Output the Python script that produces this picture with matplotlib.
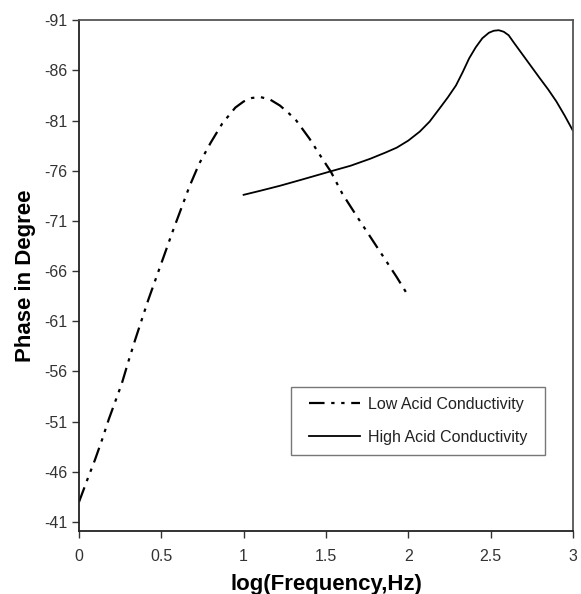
import numpy as np
import matplotlib
matplotlib.use("Agg")
import matplotlib.pyplot as plt
from matplotlib.path import Path

plt.rcParams['font.family'] = ['Liberation Sans', 'DejaVu Sans']

# Low acid conductivity (log f, phase)
low_x = [0.0, 0.05, 0.097, 0.14, 0.18, 0.22, 0.26, 0.30, 0.34, 0.38, 0.42, 0.47, 0.52,
         0.57, 0.62, 0.67, 0.73, 0.80, 0.87, 0.92, 0.95, 1.00, 1.05, 1.10, 1.16, 1.22,
         1.27, 1.32, 1.36, 1.40, 1.47, 1.53, 1.60, 1.69, 1.77, 1.85, 1.93, 1.99]
low_y = [-43.0, -45.2, -47.2, -49.2, -51.2, -53.0, -54.8, -57.0, -59.1, -61.1, -63.1, -65.4, -67.7,
         -70.0, -72.2, -74.4, -76.7, -78.8, -80.7, -81.7, -82.3, -82.9, -83.25, -83.35, -83.1, -82.5,
         -81.8, -81.0, -80.1, -79.2, -77.4, -75.9, -73.7, -71.4, -69.4, -67.4, -65.4, -63.8]

# High acid conductivity
high_x = [1.00, 1.10, 1.22, 1.35, 1.52, 1.65, 1.77, 1.86, 1.93, 2.00, 2.07, 2.13, 2.19,
          2.24, 2.29, 2.33, 2.37, 2.41, 2.45, 2.49, 2.52, 2.55, 2.58, 2.61, 2.64, 2.68,
          2.72, 2.76, 2.80, 2.85, 2.90, 2.95, 3.00]
high_y = [-73.6, -74.0, -74.5, -75.1, -75.9, -76.5, -77.2, -77.8, -78.3, -79.0, -79.9, -80.9, -82.2,
          -83.3, -84.5, -85.8, -87.2, -88.3, -89.2, -89.75, -89.95, -90.0, -89.85, -89.5, -88.8, -87.9,
          -87.0, -86.1, -85.2, -84.1, -82.9, -81.5, -80.0]

xticks = [0, 0.5, 1, 1.5, 2, 2.5, 3]
xticklabels = ['0', '0.5', '1', '1.5', '2', '2.5', '3']
yticks = [-91, -86, -81, -76, -71, -66, -61, -56, -51, -46, -41]

fig = plt.figure(figsize=(5.81, 5.94), dpi=100)
ax = fig.add_axes([0.136, 0.106, 0.850, 0.860])

ax.plot(low_x, low_y, color='black', lw=1.6, dashes=(7, 3, 1.5, 3, 1.5, 3),
        label='Low Acid Conductivity', solid_joinstyle='round')
ax.plot(high_x, high_y, color='black', lw=1.3, label='High Acid Conductivity',
        solid_joinstyle='round')

ax.set_xlim(0, 3)
ax.set_ylim(-40.1, -91)
ax.set_xticks(xticks)
ax.set_xticklabels(xticklabels)
ax.set_yticks(yticks)
ax.set_yticklabels([str(v) for v in yticks])
ax.tick_params(direction='out', length=5, width=1, labelsize=11.5, colors='#333333',
               labelcolor='#333333')
ax.tick_params(axis='x', pad=8)

for side in ['left', 'bottom']:
    ax.spines[side].set_linewidth(1.3)
    ax.spines[side].set_color('#222222')
for side in ['top', 'right']:
    ax.spines[side].set_linewidth(1.3)
    ax.spines[side].set_color('#555555')

ax.set_xlabel('log(Frequency,Hz)', fontsize=16, fontweight='bold', labelpad=7)
ax.set_ylabel('Phase in Degree', fontsize=16, fontweight='bold', labelpad=6)


def wide_box(x0, y0, width, height, mutation_size):
    dx = 0.5 * mutation_size
    return Path([(x0 - dx, y0), (x0 + width + dx, y0), (x0 + width + dx, y0 + height),
                 (x0 - dx, y0 + height), (x0 - dx, y0)], closed=True)


leg = ax.legend(loc='upper left', bbox_to_anchor=(0.4453, 0.2818), borderaxespad=0,
                frameon=True, fancybox=False, edgecolor='#555555', fontsize=11.5,
                handlelength=3.2, borderpad=0.6, labelspacing=1.15, handletextpad=0.5)
leg.get_frame().set_boxstyle(wide_box)
leg.get_frame().set_linewidth(1.0)
for t in leg.get_texts():
    t.set_color('#222222')

fig.savefig('out.png', dpi=100)
